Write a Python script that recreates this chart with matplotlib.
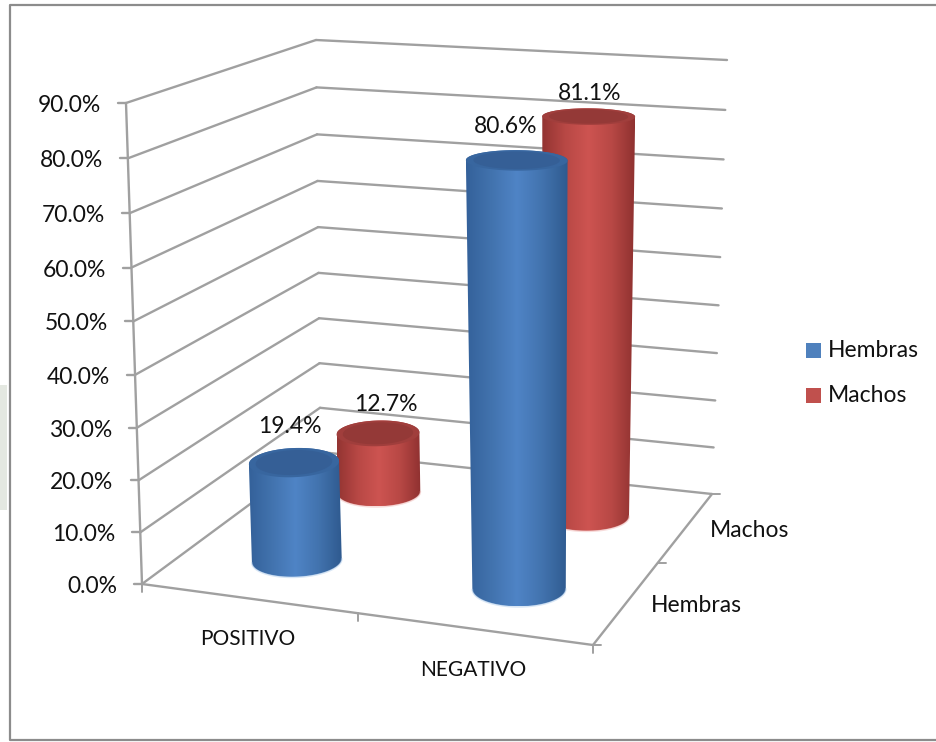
#!/usr/bin/env python3
# -*- coding: utf-8 -*-
import numpy as np
import matplotlib
matplotlib.use('Agg')
from matplotlib import pyplot as plt
from matplotlib.colors import LinearSegmentedColormap
from matplotlib.patches import Polygon, Rectangle

plt.rcParams['font.family'] = ['Lato', 'DejaVu Sans']

# datos
categorias = ['POSITIVO', 'NEGATIVO']
series = ['Hembras', 'Machos']
hembras = [19.4, 80.6]
machos = [12.7, 81.1]
ticks_y = [0, 10, 20, 30, 40, 50, 60, 70, 80, 90]
v_max = 90.0

gris = '#a0a0a0'
texto = '#111111'
fs = 16.5


def homografia(p):
    # cuadrado unitario -> cuatro esquinas (frente izq, frente der, fondo der, fondo izq)
    A, b = [], []
    for (u, w), (x, y) in zip([(0, 0), (1, 0), (1, 1), (0, 1)], p):
        A.append([u, w, 1, 0, 0, 0, -u * x, -w * x])
        A.append([0, 0, 0, u, w, 1, -u * y, -w * y])
        b += [x, y]
    return np.append(np.linalg.solve(np.array(A, float), np.array(b, float)), 1).reshape(3, 3)


H_piso = homografia([(142, 584), (593, 645), (712, 494), (320.5, 452)])
H_techo = homografia([(126, 103), (600, 140), (727, 60), (316, 40)])


def aplicar(H, u, w):
    d = H[2, 0] * u + H[2, 1] * w + H[2, 2]
    return ((H[0, 0] * u + H[0, 1] * w + H[0, 2]) / d,
            (H[1, 0] * u + H[1, 1] * w + H[1, 2]) / d)


def proy(u, w, v):
    # posicion en la figura de un punto (categoria, serie, valor)
    x0, y0 = aplicar(H_piso, u, w)
    x1, y1 = aplicar(H_techo, u, w)
    t = v / v_max
    t = t / (1 + 0.04 * (1 - t))  # perspectiva en altura
    return x0 + (x1 - x0) * t, y0 + (y1 - y0) * t


def linea(ax, p, q, lw=1.7):
    ax.plot([p[0], q[0]], [p[1], q[1]], color=gris, lw=lw, solid_capstyle='round', zorder=2)


def elipse(uc, wc, v, esc=1.0):
    t = np.linspace(0, 2 * np.pi, 121)[:-1]
    return proy(uc + esc * 0.0975 * np.cos(t), wc + esc * 0.1055 * np.sin(t), v)


def arco(x, y, inferior):
    # parte de la elipse que queda abajo (o arriba) entre sus extremos
    il, ir = int(np.argmin(x)), int(np.argmax(x))
    n = len(x)
    a = [(il + k) % n for k in range((ir - il) % n + 1)]
    b = [(ir + k) % n for k in range((il - ir) % n + 1)]
    abajo = a if np.mean(y[a]) > np.mean(y[b]) else b[::-1]
    arriba = b[::-1] if abajo is a else a
    if inferior:
        return np.column_stack([x[abajo], y[abajo]])
    return np.column_stack([x[arriba], y[arriba]])[::-1]


def cilindro(ax, uc, wc, valor, cols, z):
    xa, ya = elipse(uc, wc, 0)
    xb, yb = elipse(uc, wc, valor)
    # arco inferior de la base + arco superior de la tapa
    base = arco(xa, ya, True)
    tapa = arco(xb, yb, False)
    cuerpo = np.vstack([base, tapa])
    cmap = LinearSegmentedColormap.from_list('c', cols['lado'])
    x0, x1 = cuerpo[:, 0].min(), cuerpo[:, 0].max()
    y0, y1 = cuerpo[:, 1].min(), cuerpo[:, 1].max()
    im = ax.imshow(np.linspace(0, 1, 256).reshape(1, -1), cmap=cmap, aspect='auto',
                   extent=[x0, x1, y1, y0], zorder=z, interpolation='bilinear')
    clip = Polygon(cuerpo, closed=True, transform=ax.transData)
    im.set_clip_path(clip)
    ax.plot(base[:, 0], base[:, 1] + 0.5, color=cols['brillo'], lw=1.2, alpha=0.45, zorder=z + 0.1)
    ax.fill(xb, yb, color=cols['borde'], lw=0, zorder=z + 0.2)
    xi, yi = elipse(uc, wc, valor, 0.85)
    ax.fill(xi, yi, color=cols['tapa'], lw=0, zorder=z + 0.3)


azul = {'lado': ['#34619a', '#4273ae', '#4f84c6', '#4273ae', '#2f5a8f'],
        'borde': '#38669f', 'tapa': '#355f96', 'brillo': '#a9c8ea'}
rojo = {'lado': ['#933432', '#b84845', '#cd5451', '#b84845', '#8f3130'],
        'borde': '#a03e3c', 'tapa': '#943937', 'brillo': '#eeb2b0'}

fig = plt.figure(figsize=(9.37, 7.42), dpi=100)
ax = fig.add_axes([0, 0, 1, 1])

# paredes con lineas de division
for v in ticks_y:
    linea(ax, proy(0, 0, v), proy(0, 1, v))
    linea(ax, proy(0, 1, v), proy(1, 1, v))
    a = proy(0, 0, v)
    linea(ax, (a[0] - 8, a[1]), a)
    ax.text(a[0] - 25, a[1] + 2.5, '%.1f%%' % v, ha='right', va='center', fontsize=fs, color=texto)
linea(ax, proy(0, 0, 0), proy(0, 0, v_max))

# piso y marcas de los ejes
linea(ax, proy(0, 0, 0), proy(1, 0, 0))
linea(ax, proy(1, 0, 0), proy(1, 1, 0))
for u in [0, 0.5, 1]:
    p = proy(u, 0, 0)
    linea(ax, p, (p[0], p[1] + 8), 1.4)
for w in [0, 0.5, 1]:
    p = proy(1, w, 0)
    linea(ax, p, (p[0] + 8, p[1]), 1.4)

n = len(categorias)
for i, cat in enumerate(categorias):
    p = proy((i + 0.5) / n, 0, 0)
    ax.text(p[0], p[1] + 41, cat, ha='center', va='center', fontsize=fs - 1.5, color=texto)
for j, s in enumerate(series):
    p = proy(1, (j + 0.5) / len(series), 0)
    ax.text(p[0] + 24, p[1] + 3, s, ha='left', va='center', fontsize=fs, color=texto)

# cilindros: primero la fila del fondo
desp = {(0, 0): (-4, -36), (1, 0): (-11, -34), (0, 1): (8, -29), (1, 1): (1, -23)}
z = 3
for j, (vals, cols) in reversed(list(enumerate([(hembras, azul), (machos, rojo)]))):
    for i, val in enumerate(vals):
        uc = (i + 0.5) / n + 0.005 + 0.011 * i
        wc = (j + 0.5) / len(series)
        cilindro(ax, uc, wc, val, cols, z)
        z += 1
        p = proy(uc, wc, val)
        dx, dy = desp[(i, j)]
        ax.text(p[0] + dx, p[1] + dy, '%.1f%%' % val, ha='center', va='center',
                fontsize=fs, color=texto, zorder=20)

# leyenda
for s, c, y in zip(series, ['#4f81bd', '#c0504d'], [350, 395]):
    ax.add_patch(Rectangle((806, y - 7), 15, 15, fc=c, ec='none'))
    ax.text(828, y + 0.5, s, ha='left', va='center', fontsize=fs, color=texto)

# marco: izquierda, arriba y abajo; el lado derecho queda fuera
ax.plot([945, 10, 10, 945], [5, 5, 740, 740], color='#8c8c8c', lw=1.6)
# resto de la marca de agua junto al borde
ax.add_patch(Rectangle((0, 385), 7, 125, fc='#e4e8e1', ec='none'))

ax.set_xlim(0, 937)
ax.set_ylim(742, 0)
ax.axis('off')
fig.savefig('out.png', dpi=100)
